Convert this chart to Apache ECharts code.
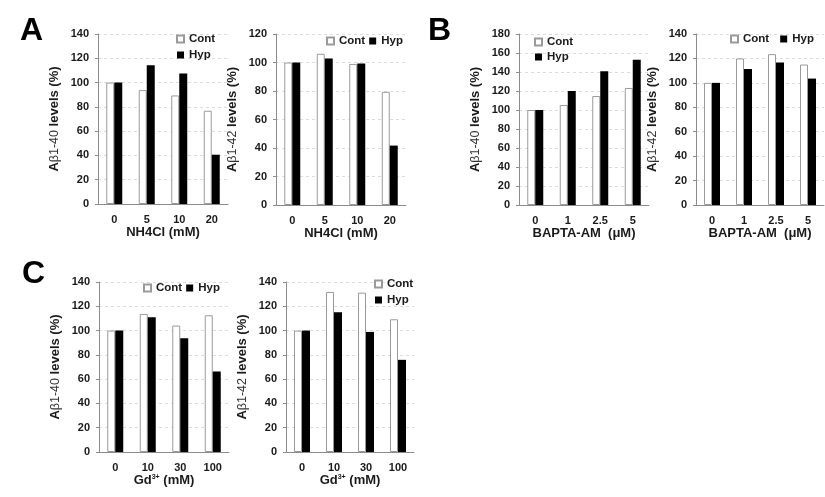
<!DOCTYPE html>
<html><head><meta charset="utf-8">
<script src="https://cdn.jsdelivr.net/npm/echarts@6/dist/echarts.min.js"></script>
<style>html,body{margin:0;padding:0;background:#fff}#c{width:825px;height:497px}</style>
</head><body><div id="c"></div>
<script>
// ---- data ----
var catsNH4 = ['0', '5', '10', '20'];
var catsBAPTA = ['0', '1', '2.5', '5'];
var catsGd = ['0', '10', '30', '100'];

var a1Cont = [100, 93.8, 89.4, 76.8];
var a1Hyp  = [100, 114.2, 107.4, 40.6];
var a2Cont = [100, 106.1, 99, 79.4];
var a2Hyp  = [100, 102.8, 99.3, 41.7];
var b1Cont = [100, 105.3, 114.7, 123.2];
var b1Hyp  = [100, 120, 140.7, 153];
var b2Cont = [100, 120, 123.5, 115];
var b2Hyp  = [100, 111.4, 116.6, 103.5];
var c1Cont = [100, 113.7, 104.1, 112.6];
var c1Hyp  = [100, 111, 93.7, 66.3];
var c2Cont = [100, 131.8, 131.2, 109.3];
var c2Hyp  = [100, 115, 98.9, 75.9];

var yMax = [140, 120, 180, 140, 140, 140];
var yInterval = 20;
var yNames = ['1-40', '1-42', '1-40', '1-42', '1-40', '1-42'];
var xNames = ['NH4Cl (mM)', 'NH4Cl (mM)', 'BAPTA-AM  (\u03bcM)', 'BAPTA-AM  (\u03bcM)', 'Gd{sup|3+} (mM)', 'Gd{sup|3+} (mM)'];
var panelLetters = ['A', 'B', 'C'];

// ---- layout ----
var grids = [
  {left: 98, width: 130, top: 34, height: 170},
  {left: 276, width: 130, top: 34, height: 171},
  {left: 519, width: 130, top: 34, height: 171},
  {left: 696, width: 128, top: 34, height: 171},
  {left: 99, width: 130, top: 282, height: 170},
  {left: 286, width: 128, top: 282, height: 170}
];
var catsList = [catsNH4, catsNH4, catsBAPTA, catsBAPTA, catsGd, catsGd];
var contList = [a1Cont, a2Cont, b1Cont, b2Cont, c1Cont, c2Cont];
var hypList = [a1Hyp, a2Hyp, b1Hyp, b2Hyp, c1Hyp, c2Hyp];

var txt = '#1a1a1a';
var font = 'Liberation Sans, Arial, sans-serif';
var axisCol = '#8c8c8c';

var xAxes = [], yAxes = [], series = [];
for (var i = 0; i < 6; i++) {
  xAxes.push({
    type: 'category', gridIndex: i, data: catsList[i],
    name: xNames[i], nameLocation: 'middle', nameGap: 22,
    nameTextStyle: {color: txt, fontWeight: 'bold', fontSize: 13, fontFamily: font,
      rich: {sup: {fontSize: 7, verticalAlign: 'top', color: txt, fontFamily: font, padding: [0,0,6,0]}}},
    axisLine: {lineStyle: {color: axisCol, width: 1}},
    axisTick: {show: false},
    axisLabel: {color: txt, fontWeight: 'bold', fontSize: 11, fontFamily: font, margin: 10}
  });
  yAxes.push({
    type: 'value', gridIndex: i, min: 0, max: yMax[i], interval: yInterval,
    name: '{a|A}{b|\u03b2' + yNames[i] + '}{a| levels (%)}',
    nameLocation: 'middle', nameGap: 37, nameRotate: 90,
    nameTextStyle: {rich: {
      a: {color: txt, fontWeight: 'bold', fontSize: 13, fontFamily: font},
      b: {color: '#333', fontWeight: 'normal', fontSize: 12.5, fontFamily: font}
    }},
    axisLine: {show: true, lineStyle: {color: axisCol, width: 1}},
    axisTick: {show: true, length: 3, lineStyle: {color: axisCol}},
    splitLine: {show: true, lineStyle: {color: '#dcdcdc', type: [3, 3], width: 1}},
    axisLabel: {color: txt, fontWeight: 'bold', fontSize: 11, fontFamily: font, margin: 9}
  });
  series.push({
    name: 'Cont', type: 'bar', xAxisIndex: i, yAxisIndex: i, data: contList[i],
    barWidth: 8, barGap: '0%',
    itemStyle: {color: '#ffffff', borderColor: '#9a9a9a', borderWidth: 1}
  });
  series.push({
    name: 'Hyp', type: 'bar', xAxisIndex: i, yAxisIndex: i, data: hypList[i],
    barWidth: 8, barGap: '0%',
    itemStyle: {color: '#000000'}
  });
}

var legTs = {color: txt, fontWeight: 'bold', fontSize: 11.5, fontFamily: font};
function leg(left, top, orient, gap) {
  return {data: ['Cont', 'Hyp'], left: left, top: top, orient: orient, itemGap: gap,
    itemWidth: 7, itemHeight: 7, icon: 'rect', selectedMode: false, padding: 0,
    textStyle: legTs};
}
var legends = [
  leg(176, 33, 'vertical', 4),
  leg(326, 35, 'horizontal', 4),
  leg(534, 36, 'vertical', 3),
  leg(730, 33, 'horizontal', 11),
  leg(143, 282, 'horizontal', 4),
  leg(374, 278, 'vertical', 4)
];

var letterPos = [[20, 15], [428, 15], [22, 258]];
var graphics = panelLetters.map(function (L, k) {
  return {type: 'text', left: letterPos[k][0], top: letterPos[k][1],
    style: {text: L, fill: '#000', font: 'bold 32px ' + font}};
});

var chart = echarts.init(document.getElementById('c'), null, {renderer: 'canvas'});
chart.setOption({
  animation: false,
  backgroundColor: '#fff',
  grid: grids,
  xAxis: xAxes,
  yAxis: yAxes,
  legend: legends,
  series: series,
  graphic: graphics
});
</script></body></html>
